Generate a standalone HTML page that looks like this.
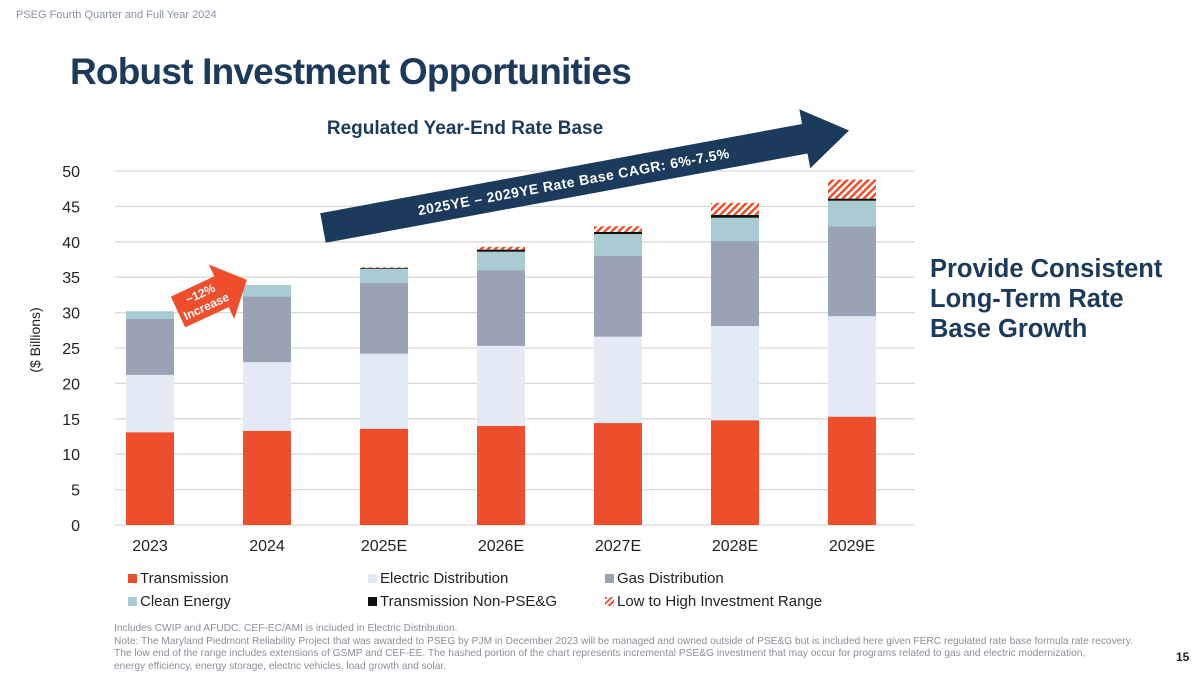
<!DOCTYPE html>
<html><head><meta charset="utf-8"><style>
body{margin:0;width:1200px;height:675px;background:#fff;font-family:"Liberation Sans",sans-serif;overflow:hidden;position:relative}
.abs{position:absolute}
</style></head><body>
<div class="abs" style="left:16px;top:9px;font-size:11px;color:#8a93a3">PSEG Fourth Quarter and Full Year 2024</div>
<div class="abs" style="left:70px;top:51px;font-size:37px;font-weight:bold;color:#1c3a5c;letter-spacing:-0.8px">Robust Investment Opportunities</div>
<div class="abs" style="left:930px;top:254px;font-size:25.5px;font-weight:bold;color:#1c3a5c;line-height:30px">Provide Consistent<br>Long-Term Rate<br>Base Growth</div>
<svg class="abs" style="left:0;top:0" width="1200" height="675" id="chart">
<defs><pattern id="hatch" width="5" height="5" patternUnits="userSpaceOnUse" patternTransform="rotate(45)"><rect width="5" height="5" fill="#fff"/><rect width="2.5" height="5" fill="#ee4e2b"/></pattern></defs>
<text x="465" y="134" text-anchor="middle" font-size="19" font-weight="bold" fill="#1c3a5c">Regulated Year-End Rate Base</text>
<text transform="translate(40,340) rotate(-90)" text-anchor="middle" font-size="14" fill="#222">($ Billions)</text>
<g id="grid"></g><g id="bars"></g>
<g transform="translate(323,228) rotate(-10.5)">
<polygon points="0,-15 490,-15 490,-30 535,0 490,30 490,15 0,15" fill="#1c3a5c"/>
<text x="255" y="5" text-anchor="middle" font-size="14" font-weight="bold" fill="#fff" letter-spacing="0.5">2025YE – 2029YE Rate Base CAGR: 6%-7.5%</text>
</g>
<g transform="translate(178,312) rotate(-25)">
<polygon points="0,-17 48,-17 48,-30 76,0 48,30 48,17 0,17" fill="#ee4e2b"/>
<text x="28" y="-3" text-anchor="middle" font-size="12" font-weight="bold" fill="#fff">~12%</text>
<text x="28" y="11" text-anchor="middle" font-size="12" font-weight="bold" fill="#fff">Increase</text>
</g>
</svg>
<div class="abs" style="left:128px;top:567px;font-size:15px;color:#222;line-height:23px">
<div class="abs" style="left:0;top:0;white-space:nowrap"><span style="display:inline-block;width:9px;height:9px;background:#ee4e2b;margin-right:3px"></span>Transmission</div>
<div class="abs" style="left:240px;top:0;white-space:nowrap"><span style="display:inline-block;width:9px;height:9px;background:#e3e9f5;margin-right:3px"></span>Electric Distribution</div>
<div class="abs" style="left:477px;top:0;white-space:nowrap"><span style="display:inline-block;width:9px;height:9px;background:#9aa3b6;margin-right:3px"></span>Gas Distribution</div>
<div class="abs" style="left:0;top:23px;white-space:nowrap"><span style="display:inline-block;width:9px;height:9px;background:#a9cbd2;margin-right:3px"></span>Clean Energy</div>
<div class="abs" style="left:240px;top:23px;white-space:nowrap"><span style="display:inline-block;width:9px;height:9px;background:#111;margin-right:3px"></span>Transmission Non-PSE&amp;G</div>
<div class="abs" style="left:477px;top:23px;white-space:nowrap"><span style="display:inline-block;width:9px;height:9px;background:repeating-linear-gradient(135deg,#ee4e2b 0 2px,#fff 2px 4px);margin-right:3px"></span>Low to High Investment Range</div>
</div>
<div class="abs" style="left:114px;top:623px;font-size:10.2px;color:#8a8f99;line-height:12.5px;width:1060px">Includes CWIP and AFUDC. CEF-EC/AMI is included in Electric Distribution.<br>Note: The Maryland Piedmont Reliability Project that was awarded to PSEG by PJM in December 2023 will be managed and owned outside of PSE&amp;G but is included here given FERC regulated rate base formula rate recovery.<br>The low end of the range includes extensions of GSMP and CEF-EE. The hashed portion of the chart represents incremental PSE&amp;G investment that may occur for programs related to gas and electric modernization,<br>energy efficiency, energy storage, electric vehicles, load growth and solar.</div>
<div class="abs" style="left:1176px;top:650px;font-size:12px;font-weight:bold;color:#222">15</div>
<script>
const categories=["2023","2024","2025E","2026E","2027E","2028E","2029E"];
const transmission=[13.1,13.3,13.6,14.0,14.4,14.8,15.3];
const electricDist=[8.1,9.7,10.6,11.3,12.2,13.3,14.2];
const gasDist=[7.9,9.3,10.0,10.7,11.4,12.0,12.7];
const cleanEnergy=[1.1,1.6,2.0,2.6,3.1,3.3,3.6];
const transNonPSEG=[0,0,0.1,0.3,0.3,0.4,0.3];
const investRange=[0,0,0.1,0.4,0.8,1.7,2.7];
const yTicks=[0,5,10,15,20,25,30,35,40,45,50];
const NS="http://www.w3.org/2000/svg";
const y=v=>525-v*(354/50);
const x=i=>150+i*117;
const grid=document.getElementById('grid'),bars=document.getElementById('bars');
function mk(tag,a,p){const e=document.createElementNS(NS,tag);for(const k in a)e.setAttribute(k,a[k]);p.appendChild(e);return e;}
yTicks.forEach(t=>{
 const l=mk('line',{x1:115,x2:915,y1:y(t),y2:y(t),stroke:'#d9d9d9','stroke-width':1.3},grid);
 
 
 const tx=mk('text',{x:80,y:y(t)+6,'text-anchor':'end','font-size':16,fill:'#222'},grid);
 tx.textContent=t;
 
 
});
const series=[[transmission,'#ee4e2b','transmission'],[electricDist,'#e3e9f5','electric-distribution'],[gasDist,'#9aa3b6','gas-distribution'],[cleanEnergy,'#a9cbd2','clean-energy'],[transNonPSEG,'#111','transmission-non-pseg'],[investRange,'url(#hatch)','investment-range']];
categories.forEach((c,i)=>{
 let base=0;
 series.forEach(([arr,col,nm])=>{
  const v=arr[i];if(v<=0)return;
  const r=mk('rect',{x:x(i)-24,width:48,y:y(base+v),height:y(base)-y(base+v),fill:col},bars);
  
  
  base+=v;
 });
 const t=mk('text',{x:x(i),y:551,'text-anchor':'middle','font-size':16,fill:'#222'},bars);
 t.textContent=c;
 
 
});
</script>
</body></html>
